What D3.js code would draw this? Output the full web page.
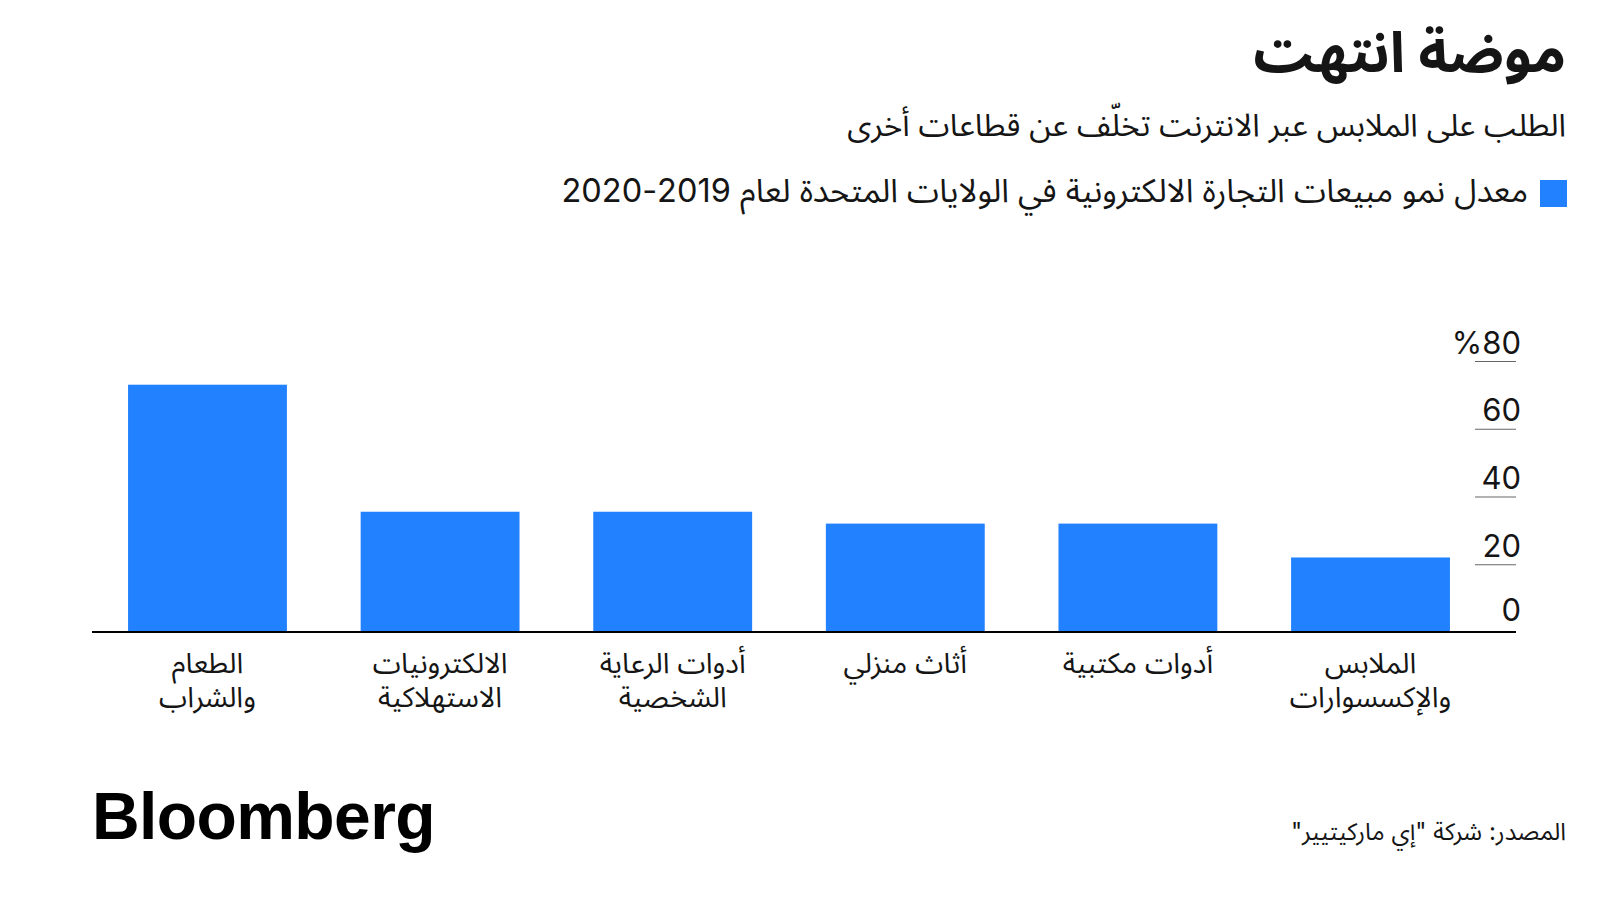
<!DOCTYPE html>
<html>
<head>
<meta charset="utf-8">
<script src="https://cdn.jsdelivr.net/npm/d3@7"></script>
<style>
  body { margin: 0; background: #fff; }
  svg { display: block; }
  text { font-family: Inter, "Noto Sans Arabic", "DejaVu Sans", sans-serif; fill: #151515; }
  .title { font-size: 56px; font-weight: 700; }
  .subtitle { font-size: 31.5px; }
  .legend { font-size: 32.5px; }
  .xlabel { font-size: 28.5px; }
  .ytick text { font-size: 31px; }
  .source { font-size: 24px; }
  .logo { font-family: "Liberation Sans", Arial, sans-serif; font-size: 66px; font-weight: 700; letter-spacing: -0.6px; fill: #000; }
</style>
</head>
<body>
<svg id="chart" width="1600" height="900"></svg>
<script>
// categories, right to left (as read in Arabic)
const categories = ['الملابس والإكسسوارات', 'أدوات مكتبية', 'أثاث منزلي', 'أدوات الرعاية الشخصية', 'الالكترونيات الاستهلاكية', 'الطعام والشراب'];
const labelLines = [['الملابس', 'والإكسسوارات'], ['أدوات مكتبية'], ['أثاث منزلي'], ['أدوات الرعاية', 'الشخصية'], ['الالكترونيات', 'الاستهلاكية'], ['الطعام', 'والشراب']];
const growth = [22, 32, 32, 35.5, 35.5, 73];
const yTicks = [0, 20, 40, 60, 80];

const title = 'موضة انتهت';
const subtitle = 'الطلب على الملابس عبر الانترنت تخلّف عن قطاعات أخرى';
const legendText = 'معدل نمو مبيعات التجارة الالكترونية في الولايات المتحدة لعام 2019-2020';
const sourceText = 'المصدر: شركة "إي ماركيتيير"';

const svg = d3.select('#chart');
const right = 1566;
const blue = '#2281ff';

svg.append('text').attr('class', 'title')
    .attr('x', right).attr('y', 72)
    .attr('direction', 'rtl').attr('text-anchor', 'start')
    .text(title);

svg.append('text').attr('class', 'subtitle')
    .attr('x', right).attr('y', 136)
    .attr('direction', 'rtl').attr('text-anchor', 'start')
    .text(subtitle);

svg.append('rect')
    .attr('x', 1540).attr('y', 180).attr('width', 27).attr('height', 27)
    .attr('fill', blue);
svg.append('text').attr('class', 'legend')
    .attr('x', 1528).attr('y', 202)
    .attr('direction', 'rtl').attr('text-anchor', 'start')
    .text(legendText);

const xScale = d3.scaleBand()
    .domain(categories)
    .range([1486, 92])
    .paddingInner(0.317)
    .paddingOuter(0.155);

const yScale = d3.scaleLinear()
    .domain([0, 80])
    .range([632, 361]);

// y axis on the right, short tick lines under the labels
const yAxis = d3.axisLeft(yScale)
    .tickValues(yTicks)
    .tickSize(41)
    .tickFormat(d => d === 80 ? '%80' : d);

const ya = svg.append('g')
    .attr('class', 'ytick')
    .attr('transform', 'translate(1516,0)')
    .call(yAxis);
ya.select('.domain').remove();
ya.selectAll('.tick line').attr('stroke', '#666').attr('stroke-width', 1.2)
    .filter(d => d === 0).remove();
ya.selectAll('.tick text')
    .attr('x', 5).attr('dy', null).attr('y', -8)
    .attr('text-anchor', 'end').attr('fill', '#151515')
    .style('font-family', 'Inter, sans-serif')
    .style('font-size', '31px');
ya.selectAll('.tick').filter(d => d === 0).select('text').attr('y', -12);

svg.append('g')
    .selectAll('rect')
    .data(growth)
    .enter()
    .append('rect')
    .attr('x', (d, i) => xScale(categories[i]))
    .attr('y', d => yScale(d))
    .attr('width', xScale.bandwidth())
    .attr('height', d => yScale(0) - yScale(d))
    .attr('fill', blue);

svg.append('line')
    .attr('x1', 92).attr('x2', 1516)
    .attr('y1', yScale(0)).attr('y2', yScale(0))
    .attr('stroke', '#000').attr('stroke-width', 2);

const xl = svg.append('g')
    .selectAll('text')
    .data(labelLines)
    .enter()
    .append('text')
    .attr('class', 'xlabel')
    .attr('direction', 'rtl')
    .attr('text-anchor', 'middle')
    .attr('x', (d, i) => xScale(categories[i]) + xScale.bandwidth() / 2)
    .attr('y', 673);
xl.selectAll('tspan')
    .data(d => d)
    .enter()
    .append('tspan')
    .attr('x', function() { return this.parentNode.getAttribute('x'); })
    .attr('dy', (d, i) => i === 0 ? 0 : 34)
    .text(d => d);

svg.append('text').attr('class', 'logo')
    .attr('x', 92).attr('y', 839)
    .text('Bloomberg');

svg.append('text').attr('class', 'source')
    .attr('x', right).attr('y', 840)
    .attr('direction', 'rtl').attr('text-anchor', 'start')
    .text(sourceText);
</script>
</body>
</html>
